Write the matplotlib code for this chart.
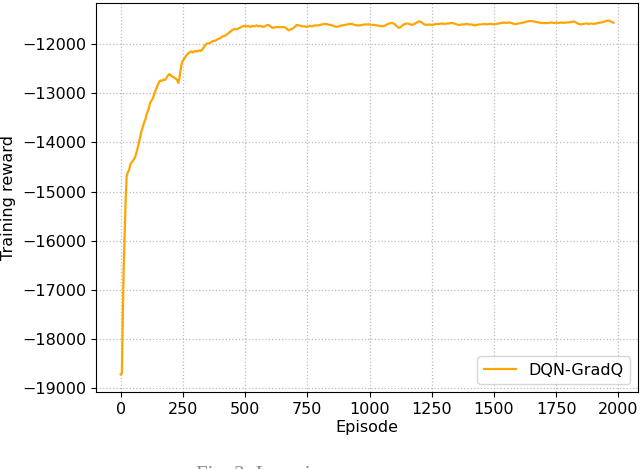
import matplotlib
matplotlib.use("Agg")
import matplotlib.pyplot as plt

episodes = [0, 5, 8, 12, 16, 20, 24, 28, 34, 40, 46, 52, 58, 64, 70, 76, 82, 88, 94, 100,
            106, 112, 118, 124, 130, 136, 142, 148, 154, 160, 166, 172, 178, 184, 190, 196,
            202, 208, 214, 220, 226, 232, 236, 240, 246, 252, 258, 264, 270, 276, 282, 290,
            298, 306, 314, 322, 330, 338, 346, 354, 362, 370, 380, 390, 400, 410, 420, 430,
            440, 450, 458, 466, 474, 482, 490, 498, 506, 514, 522, 530, 538, 546, 554, 562,
            570, 578, 586, 594, 602, 610, 620, 630, 640, 650, 660, 668, 676, 684, 692, 700,
            708, 716, 724, 732, 740, 750, 760, 770, 780, 790, 800, 810, 820, 830, 840, 850,
            860, 870, 880, 890, 900, 910, 920, 930, 940, 950, 960, 970, 980, 990, 1000, 1010,
            1020, 1030, 1040, 1050, 1060, 1070, 1080, 1090, 1100, 1110, 1118, 1126, 1134, 1142,
            1150, 1160, 1170, 1180, 1190, 1200, 1210, 1220, 1230, 1240, 1250, 1260, 1270, 1280,
            1290, 1300, 1310, 1320, 1330, 1340, 1350, 1360, 1370, 1380, 1390, 1400, 1410, 1420,
            1430, 1440, 1450, 1460, 1470, 1480, 1490, 1500, 1510, 1520, 1530, 1540, 1550, 1560,
            1570, 1580, 1590, 1600, 1610, 1620, 1630, 1640, 1650, 1660, 1670, 1680, 1690, 1700,
            1710, 1720, 1730, 1740, 1750, 1760, 1770, 1780, 1790, 1800, 1810, 1820, 1830, 1840,
            1850, 1860, 1870, 1880, 1890, 1900, 1910, 1920, 1930, 1940, 1950, 1960, 1970, 1980]

reward = [-18720, -18700, -17800, -16600, -15900, -15200, -14700, -14620, -14560, -14430,
          -14400, -14350, -14300, -14200, -14080, -13950, -13800, -13700, -13600, -13520,
          -13400, -13330, -13200, -13150, -13100, -13000, -12920, -12850, -12770, -12740,
          -12750, -12720, -12730, -12690, -12640, -12610, -12640, -12660, -12680, -12700,
          -12720, -12790, -12700, -12550, -12380, -12320, -12280, -12230, -12200, -12170,
          -12150, -12170, -12140, -12150, -12130, -12140, -12100, -12030, -11990, -11980,
          -11970, -11940, -11930, -11900, -11880, -11840, -11830, -11790, -11750, -11710,
          -11690, -11700, -11680, -11660, -11640, -11630, -11640, -11630, -11650, -11630,
          -11640, -11620, -11640, -11630, -11650, -11640, -11620, -11610, -11640, -11670,
          -11660, -11650, -11660, -11650, -11660, -11690, -11720, -11700, -11680, -11650,
          -11610, -11620, -11630, -11640, -11640, -11650, -11630, -11640, -11620, -11620,
          -11610, -11600, -11590, -11595, -11610, -11620, -11640, -11650, -11630, -11620,
          -11610, -11600, -11590, -11590, -11610, -11620, -11620, -11610, -11600, -11600,
          -11600, -11610, -11610, -11620, -11630, -11640, -11630, -11600, -11580, -11570,
          -11590, -11640, -11670, -11650, -11610, -11590, -11580, -11590, -11610, -11590,
          -11560, -11535, -11560, -11600, -11610, -11600, -11610, -11600, -11590, -11590,
          -11580, -11590, -11580, -11580, -11570, -11580, -11600, -11610, -11600, -11600,
          -11590, -11600, -11600, -11620, -11610, -11600, -11600, -11590, -11600, -11590,
          -11590, -11600, -11590, -11580, -11570, -11560, -11570, -11560, -11570, -11590,
          -11590, -11580, -11570, -11560, -11545, -11535, -11530, -11540, -11550, -11560,
          -11570, -11570, -11575, -11570, -11560, -11570, -11565, -11570, -11560, -11570,
          -11560, -11560, -11550, -11540, -11560, -11590, -11600, -11590, -11580, -11590,
          -11580, -11590, -11580, -11570, -11560, -11550, -11530, -11520, -11540, -11565]

label = "DQN-GradQ"
caption = "Fig. 2: Learning curve"

fig = plt.figure(figsize=(6.4, 4.69), dpi=100)
ax = fig.add_axes([0.15, 0.164, 0.847, 0.83])
ax.plot(episodes, reward, color="#FFA500", linewidth=1.6, label=label)
ax.grid(True, linestyle=":", color="#bbbbbb", linewidth=0.9)
ax.tick_params(labelsize=11.5)
ax.set_xlabel("Episode", fontsize=11.5, labelpad=2)
ax.set_ylabel("Training reward", fontsize=11.5)
ax.set_xticks(range(0, 2001, 250))
ax.legend(loc="lower right", fontsize=11.5)
fig.text(196 / 640, 3 / 469, caption, va="top", ha="left", fontsize=15,
         family="Liberation Serif", color="#888888")
fig.savefig("out.png", dpi=100)
